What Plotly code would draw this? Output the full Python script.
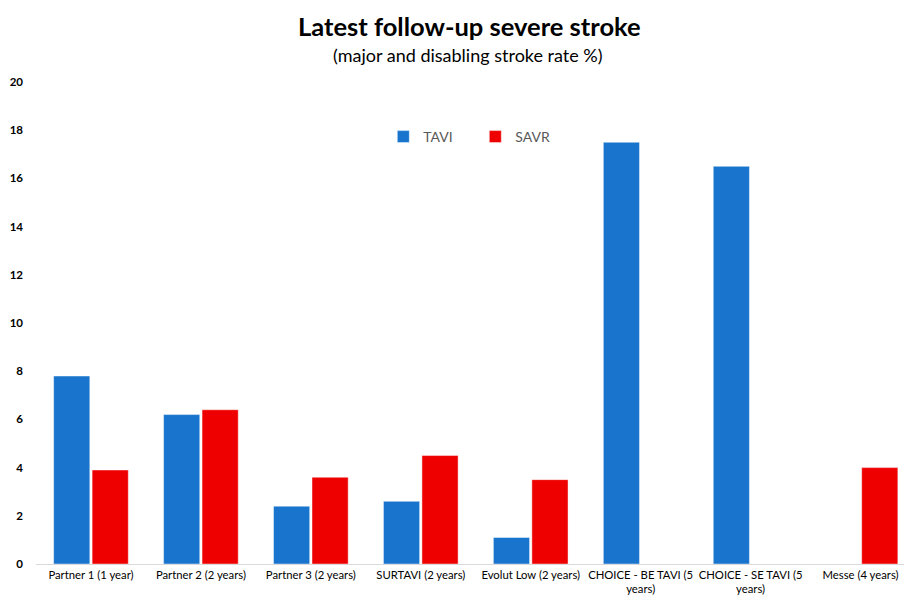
import plotly.graph_objects as go

# Trial names (with follow-up length) and severe stroke rates (%)
trials = [
    "Partner 1 (1 year)",
    "Partner 2 (2 years)",
    "Partner 3 (2 years)",
    "SURTAVI (2 years)",
    "Evolut Low (2 years)",
    "CHOICE - BE TAVI (5<br>years)",
    "CHOICE - SE TAVI (5<br>years)",
    "Messe (4 years)",
]
tavi = [7.8, 6.2, 2.4, 2.6, 1.1, 17.5, 16.5, None]
savr = [3.9, 6.4, 3.6, 4.5, 3.5, None, None, 4.0]
y_ticks = [0, 2, 4, 6, 8, 10, 12, 14, 16, 18, 20]

W, H = 904, 601
M_L, M_R, M_T, M_B = 35.5, 0, 82, 37
plot_h = H - M_T - M_B
plot_w = W - M_L - M_R


def py(pixel_y):
    """Convert a pixel row into paper y units."""
    return (H - M_B - pixel_y) / plot_h


def px(pixel_x):
    return (pixel_x - M_L) / plot_w


fig = go.Figure()
fig.add_trace(go.Bar(
    name="TAVI", x=list(range(len(trials))), y=tavi,
    marker=dict(color="#1874CD", line=dict(color="rgba(255,255,255,0.45)", width=1)),
))
fig.add_trace(go.Bar(
    name="SAVR", x=list(range(len(trials))), y=savr,
    marker=dict(color="#EE0000", line=dict(color="rgba(255,255,255,0.45)", width=1)),
))

# Category slot is 110 px wide; the last slot runs past the right edge
x_max = (W - M_L) / 110 - 0.5

fig.update_layout(
    width=W, height=H,
    margin=dict(l=M_L, r=M_R, t=M_T, b=M_B, pad=0),
    paper_bgcolor="white", plot_bgcolor="white",
    barmode="group", bargap=0.3, bargroupgap=0.06,
    font=dict(family="Lato, 'Open Sans', sans-serif", color="black"),
    showlegend=True,
    legend=dict(
        orientation="h", x=px(383), y=py(137), xanchor="left", yanchor="middle",
        font=dict(size=14, color="#595959"), bgcolor="rgba(0,0,0,0)",
        entrywidth=47, entrywidthmode="pixels", itemwidth=30,
    ),
    xaxis=dict(
        tickmode="array", tickvals=list(range(len(trials))), ticktext=trials,
        range=[-0.5, x_max], showgrid=False, zeroline=False,
        showline=True, linecolor="#D9D9D9", linewidth=1,
        ticks="", tickfont=dict(size=11.3, color="black"), tickangle=0,
    ),
    yaxis=dict(
        range=[0, 20], tickvals=y_ticks, showgrid=False, zeroline=False,
        showline=False, ticks="", ticklabelstandoff=12,
        tickfont=dict(size=11.5, color="black", family="Lato, sans-serif", weight="bold"),
    ),
    annotations=[
        dict(text="<b>Latest follow-up severe stroke</b>", xref="paper", yref="paper",
             x=px(469), y=py(26), xanchor="center", yanchor="middle", showarrow=False,
             font=dict(size=25.5, color="black")),
        dict(text="(major and disabling stroke rate %)", xref="paper", yref="paper",
             x=px(468), y=py(55), xanchor="center", yanchor="middle", showarrow=False,
             font=dict(size=18, color="black")),
    ],
)

fig.write_html("out.html")
